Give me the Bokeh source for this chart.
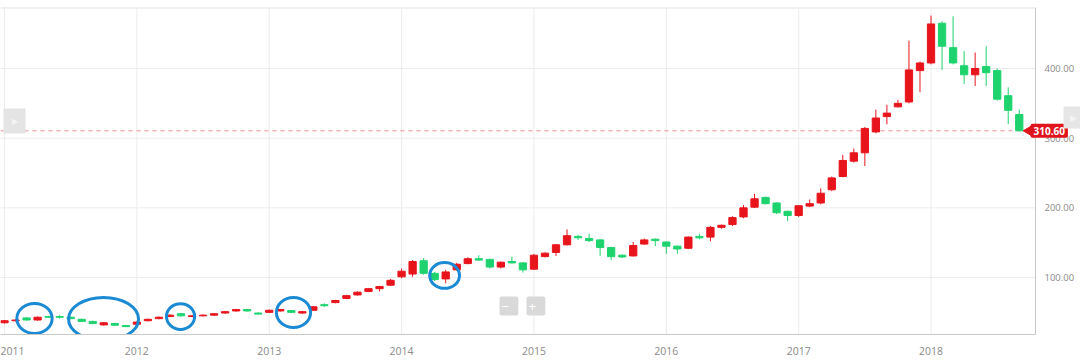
import math
from bokeh.plotting import figure
from bokeh.models import (Range1d, FixedTicker, LinearAxis, Span, Label, ColumnDataSource,
                          NumeralTickFormatter)
from bokeh.embed import file_html
from bokeh.resources import INLINE

months = [f"{y}-{m:02d}" for y in range(2011, 2019) for m in range(1, 13)][:93]

opens = [35, 38, 42, 39, 44, 44, 43, 40, 37, 32, 34, 31,
         33, 38, 41, 44, 48, 44, 45, 46, 49, 52, 54, 49,
         50, 52, 52.5, 49, 53, 61, 64, 70, 75, 80, 84, 89,
         101, 105, 124, 106, 98, 111, 120, 127, 126, 115, 123, 121,
         112, 130, 136, 147, 159, 156, 154, 143, 132, 131, 148, 155,
         151, 145, 142, 159, 158, 172, 176, 187, 201, 215, 207, 195,
         189, 202.5, 207, 226, 245, 267, 279, 309, 331, 345, 352, 397,
         408, 465, 430, 404, 391, 403, 397, 361, 334]
closes = [38, 39, 39, 43, 43, 43, 41, 37, 34, 35, 31.5, 29.5,
          36, 40, 43, 46, 45, 45, 46, 48, 51, 54, 52, 47.5,
          53, 54, 50, 51, 58, 59.5, 67, 74, 79, 84, 87, 96,
          109, 123, 106, 97, 108, 119, 127, 125, 115, 122, 121, 111,
          132, 135, 147, 160, 157, 153, 143, 130, 129.5, 146, 154, 153,
          145, 141, 158, 157, 172, 175, 186, 200, 213, 206, 193, 189,
          203, 206, 221, 243, 268, 279, 314, 329, 336, 350, 398, 408,
          464, 432, 408, 391, 400, 394, 356, 340, 310.6]
highs = [39, 40, 43, 44, 45, 46, 44, 41, 38, 36, 35, 32,
         37, 41, 44, 47, 49, 46, 47, 49, 52, 55, 55, 50,
         54, 55, 53, 52, 59, 63, 68, 75, 80, 85, 88, 98,
         113, 125, 128, 108, 111, 121, 129, 132, 127, 123, 130, 122,
         134, 136, 148, 169, 161, 163, 155, 144, 133, 151, 156, 156,
         152, 146, 159, 163, 174, 176, 188, 204, 220, 216, 208, 196,
         204, 212, 228, 245, 276, 285, 316, 341, 348, 355, 440, 410,
         476, 468, 475, 425, 423, 432, 400, 373, 341]
lows = [34, 37, 38, 38, 42, 41, 40, 36, 33, 31, 31, 29,
        32, 37, 40, 43, 44, 43, 44, 45, 48, 51, 51, 47,
        49, 51, 49, 48, 52, 58, 63, 69, 74, 79, 80, 88,
        99, 101, 104, 95, 92, 110, 119, 124, 113, 113, 120, 107,
        111, 129, 131, 146, 154, 151, 131, 125, 128, 130, 147, 145,
        134, 134, 141, 155, 152, 170, 174, 185, 200, 205, 191, 181,
        187, 201, 205, 224, 244, 265, 260, 307, 320, 344, 350, 366,
        406, 398, 406, 378, 375, 375, 354, 320, 310]

year_labels = ["2011", "2012", "2013", "2014", "2015", "2016", "2017", "2018"]
price_ticks = [100, 200, 300, 400]
last_price = closes[-1]

# hand-drawn highlight ellipses (month position, price, width in months, height in price)
ell_x = [2.72, 8.98, 15.96, 26.2, 39.9]
ell_y = [41.2, 40.5, 44, 49.8, 103]
ell_w = [3.2, 6.35, 2.55, 3.1, 2.7]
ell_h = [43, 62, 37, 43, 37]

RED = "#e8141c"
GREEN = "#1ed36e"

W, H = 1080, 360
TOP, BOTTOM = 7, 26
Y0, Y1 = 18.2, 487.6
PX_PER_MONTH = 11.03
X_START = -0.363
AXIS_X = 93.47                       # position of the price axis, in months
X_END = X_START + W / PX_PER_MONTH   # frame spans the full width

idx = list(range(len(months)))
up = [c >= o for o, c in zip(opens, closes)]
src = ColumnDataSource(dict(
    x=idx, o=opens, c=closes, h=highs, l=lows,
    top=[max(o, c) for o, c in zip(opens, closes)],
    bot=[min(o, c) for o, c in zip(opens, closes)],
    col=[RED if u else GREEN for u in up],
))

p = figure(width=W, height=H, output_backend="svg", toolbar_location=None,
           x_range=Range1d(X_START, X_END), y_range=Range1d(Y0, Y1),
           min_border_left=0, min_border_right=0, min_border_top=TOP, min_border_bottom=BOTTOM,
           background_fill_color="white", border_fill_color="white")
p.outline_line_color = None
p.xaxis.visible = False
p.yaxis.visible = False
p.xgrid.visible = False
p.ygrid.visible = False

year_ticks = [i * 12 for i in range(len(year_labels))]
xa = LinearAxis(ticker=FixedTicker(ticks=year_ticks),
                major_label_overrides={t: s for t, s in zip(year_ticks, year_labels)},
                bounds=(X_START, AXIS_X))
xa.axis_line_color = "#c8c8c8"
xa.major_tick_line_color = None
xa.minor_tick_line_color = None
xa.major_label_text_color = "#8a8a8a"
xa.major_label_text_font = "Open Sans"
xa.major_label_text_font_size = "10.5px"
xa.major_label_standoff = 6
p.add_layout(xa, "below")

ya = LinearAxis(ticker=FixedTicker(ticks=price_ticks), formatter=NumeralTickFormatter(format="0.00"),
                fixed_location=AXIS_X)
ya.axis_line_color = "#c8c8c8"
ya.major_tick_line_color = None
ya.minor_tick_line_color = None
ya.major_label_text_color = "#8a8a8a"
ya.major_label_text_font = "Open Sans"
ya.major_label_text_font_size = "9.5px"
ya.major_label_standoff = 3
p.add_layout(ya, "right")

# grid
for t in year_ticks:
    p.add_layout(Span(location=t, dimension="height", line_color="#ececec", line_width=1, level="underlay"))
p.segment(x0=[X_START] * len(price_ticks), x1=[AXIS_X] * len(price_ticks), y0=price_ticks, y1=price_ticks,
          line_color="#ececec", line_width=1, level="underlay")
p.segment(x0=[X_START], x1=[AXIS_X], y0=[Y1], y1=[Y1], line_color="#e4e4e4", line_width=2, level="underlay")

# last price line
p.segment(x0=[X_START], x1=[AXIS_X], y0=[last_price], y1=[last_price],
          line_color="#f28c96", line_width=1, line_dash="4 4")

# candles
p.segment(x0="x", x1="x", y0="l", y1="h", line_color="col", line_width=1, source=src)
p.vbar(x="x", width=0.66, top="top", bottom="bot", fill_color="col", line_color="col", source=src)

p.ellipse(x=ell_x, y=ell_y, width=ell_w, height=ell_h, fill_color=None,
          line_color="#1a8ad4", line_width=3)

# last-price badge
p.scatter(x=[AXIS_X - 6 / PX_PER_MONTH], y=[last_price], marker="triangle", angle=math.pi / 2,
          size=11, fill_color="#e0141c", line_color="#e0141c")
p.add_layout(Label(x=AXIS_X, y=last_price, x_offset=-5, text=f"{last_price:.2f}",
                   text_color="white", text_font="Open Sans", text_font_size="10px",
                   text_font_style="bold", text_baseline="middle",
                   background_fill_color="#e0141c", padding=3, border_radius=2))

# navigation tabs
p.add_layout(Label(x=W - 17, y=106, x_units="canvas", y_units="canvas", text="\u25b6",
                   text_color="#f4f4f4", text_font_size="9px", text_baseline="top",
                   background_fill_color="#e6e6e6", padding=6))
p.add_layout(Label(x=3, y=108, x_units="canvas", y_units="canvas", text="\u25b6",
                   text_color="#f4f4f4", text_font_size="8px", text_baseline="top",
                   background_fill_color="#e4e4e4", padding=8))

# zoom buttons
p.add_layout(Label(x=499, y=296, x_units="canvas", y_units="canvas", text=" \u2212 ",
                   text_color="white", text_font_size="13px", text_baseline="top",
                   background_fill_color="#d9d9d9", padding=2, border_radius=2))
p.add_layout(Label(x=526, y=296, x_units="canvas", y_units="canvas", text=" + ",
                   text_color="white", text_font_size="13px", text_baseline="top",
                   background_fill_color="#d9d9d9", padding=2, border_radius=2))

open("out.html", "w").write(file_html(p, INLINE))
